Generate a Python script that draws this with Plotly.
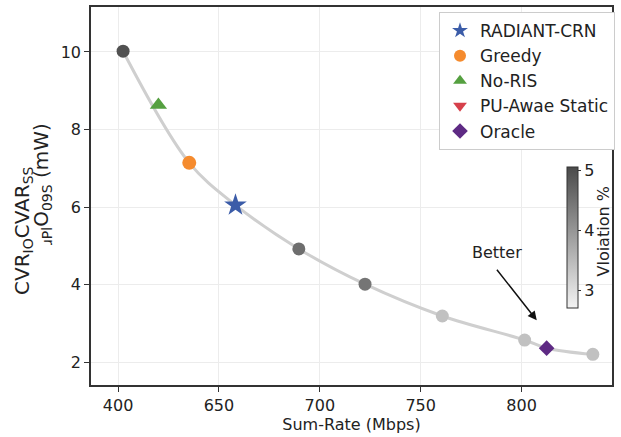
import plotly.graph_objects as go

# Pareto sweep points (gray circles)
sweep_rate = [602.5, 689.6, 722.4, 760.7, 801.5, 835.3]
sweep_cvar = [10.02, 4.92, 4.01, 3.19, 2.57, 2.20]
sweep_viol = [4.95, 4.55, 4.45, 3.40, 3.40, 3.40]

# Baselines
radiant_rate, radiant_cvar = [658.2], [6.05]
greedy_rate, greedy_cvar = [635.3], [7.14]
noris_rate, noris_cvar = [620.0], [8.63]
oracle_rate, oracle_cvar = [812.4], [2.36]

x_tickvals = [600, 650, 700, 750, 800]
x_ticktext = ["400", "650", "700", "750", "800"]
y_tickvals = [2, 4, 6, 8, 10]

FONT = "DejaVu Sans"
W, H = 621, 437
L, R, T, B = 91, 9, 7, 52
pw, ph = W - L - R, H - T - B

def px2paper(px, py):
    return (px - L) / pw, (H - B - py) / ph

# trend curve through the frontier points
frontier = sorted(
    list(zip(sweep_rate, sweep_cvar))
    + list(zip(greedy_rate, greedy_cvar))
    + list(zip(radiant_rate, radiant_cvar))
    + list(zip(oracle_rate, oracle_cvar))
)
curve_x = [p[0] for p in frontier]
curve_y = [p[1] for p in frontier]

cb_x, cb_y = px2paper(567, 237.5)

fig = go.Figure()
fig.add_trace(go.Scatter(
    x=curve_x, y=curve_y, mode="lines",
    line=dict(color="#cfcfcf", width=3, shape="spline", smoothing=1.0),
    showlegend=False, hoverinfo="skip"))

fig.add_trace(go.Scatter(
    x=sweep_rate, y=sweep_cvar, mode="markers", showlegend=False,
    marker=dict(size=13, color=sweep_viol, cmin=2.7, cmax=5.05,
                colorscale=[[0, "#f3f3f3"], [1, "#4a4a4a"]],
                line=dict(width=0),
                colorbar=dict(
                    x=cb_x, xanchor="left", y=cb_y, yanchor="middle",
                    len=141, lenmode="pixels", thickness=11, ypad=0, xpad=0,
                    outlinewidth=1, outlinecolor="#333333",
                    tickvals=[3, 4, 5], ticks="outside", ticklen=3,
                    tickcolor="#333",
                    tickfont=dict(family=FONT, size=16, color="#222"),
                ))))

fig.add_trace(go.Scatter(
    x=radiant_rate, y=radiant_cvar, mode="markers", name="RADIANT-CRN",
    marker=dict(symbol="star", size=17, color="#3b5ca8", line=dict(width=0))))
fig.add_trace(go.Scatter(
    x=greedy_rate, y=greedy_cvar, mode="markers", name="Greedy",
    marker=dict(symbol="circle", size=14, color="#f58b2e", line=dict(width=0))))
fig.add_trace(go.Scatter(
    x=noris_rate, y=noris_cvar, mode="markers", name="No-RIS",
    marker=dict(symbol="triangle-up", size=15, color="#55a040", line=dict(width=0))))
fig.add_trace(go.Scatter(
    x=[None], y=[None], mode="markers", name="PU-Awae Static",
    marker=dict(symbol="triangle-down", size=15, color="#d6404b", line=dict(width=0))))
fig.add_trace(go.Scatter(
    x=oracle_rate, y=oracle_cvar, mode="markers", name="Oracle",
    marker=dict(symbol="diamond", size=12, color="#5e2a84", line=dict(width=0))))

fig.add_annotation(
    x=807.5, y=3.08, ax=-41, ay=-52, xref="x", yref="y",
    text="", showarrow=True, arrowhead=2, arrowsize=1.2, arrowwidth=1.5,
    arrowcolor="#111")
fig.add_annotation(
    x=787.6, y=4.84, xref="x", yref="y", text="Better", showarrow=False,
    font=dict(family=FONT, size=16, color="#222"))

# colorbar title
tx, ty = px2paper(614, 232)
fig.add_annotation(
    x=tx, y=ty, xref="paper", yref="paper", text="Vloiation %",
    showarrow=False, textangle=-90,
    font=dict(family=FONT, size=16, color="#222"))

# y title (two garbled lines)
ax1, ay1 = px2paper(8, 231)
fig.add_annotation(
    x=ax1, y=ay1, xref="paper", yref="paper", text="CVR<sub>IO</sub>CVAR<sub>SS</sub>",
    showarrow=False, textangle=-90,
    font=dict(family=FONT, size=20, color="#222"))
ax2, ay2 = px2paper(27, 184)
fig.add_annotation(
    x=ax2, y=ay2, xref="paper", yref="paper", text="<sub>ɹPl</sub>O<sub>09S</sub> (mW)",
    showarrow=False, textangle=-90,
    font=dict(family=FONT, size=20, color="#222"))

lx, ly = px2paper(615, 12)
fig.update_layout(
    width=W, height=H,
    margin=dict(l=L, r=R, t=T, b=B, autoexpand=False),
    paper_bgcolor="white", plot_bgcolor="white",
    font=dict(family=FONT, size=16, color="#222"),
    xaxis=dict(range=[586.6, 844.8], tickvals=x_tickvals, ticktext=x_ticktext,
               showgrid=True, gridcolor="#ececec", gridwidth=1,
               ticks="outside", ticklen=5, tickcolor="#333",
               tickfont=dict(family=FONT, size=16),
               showline=True, linecolor="#333", linewidth=1.5, mirror=True,
               zeroline=False,
               title=dict(text="Sum-Rate (Mbps)", standoff=4,
                          font=dict(family=FONT, size=16))),
    yaxis=dict(range=[1.41, 11.16], tickvals=y_tickvals,
               showgrid=True, gridcolor="#ececec", gridwidth=1,
               ticks="outside", ticklen=5, tickcolor="#333",
               tickfont=dict(family=FONT, size=16),
               showline=True, linecolor="#333", linewidth=1.5, mirror=True,
               zeroline=False),
    legend=dict(x=lx, xanchor="right", y=ly, yanchor="top",
                bgcolor="white", bordercolor="#cccccc", borderwidth=1,
                font=dict(family=FONT, size=17, color="#222"),
                itemsizing="constant", tracegroupgap=0),
)

fig.write_html("out.html")
